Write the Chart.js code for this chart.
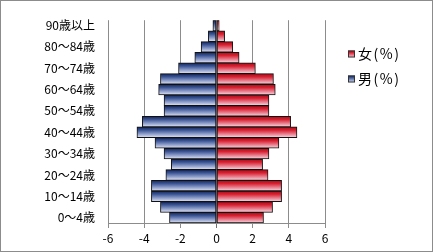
<!DOCTYPE html>
<html>
<head>
<meta charset="utf-8">
<script src="https://cdn.jsdelivr.net/npm/chart.js@4"></script>
<style>
  html, body { margin: 0; padding: 0; background: #fff; }
  #wrap { width: 433px; height: 252px; }
</style>
</head>
<body>
<div id="wrap"><canvas id="myChart" width="433" height="252"></canvas></div>
<script>
'use strict';

// age groups, bottom to top
const categories = [
  '0～4歳', '5～9歳', '10～14歳', '15～19歳', '20～24歳', '25～29歳',
  '30～34歳', '35～39歳', '40～44歳', '45～49歳', '50～54歳', '55～59歳',
  '60～64歳', '65～69歳', '70～74歳', '75～79歳', '80～84歳', '85～89歳',
  '90歳以上',
];

const male = [
  -2.6, -3.1, -3.6, -3.6, -2.8, -2.5, -2.9, -3.4, -4.4, -4.1,
  -2.9, -2.9, -3.2, -3.1, -2.1, -1.2, -0.85, -0.45, -0.2,
];
const female = [
  2.6, 3.1, 3.6, 3.6, 2.85, 2.55, 2.9, 3.45, 4.45, 4.1,
  2.9, 2.9, 3.25, 3.15, 2.15, 1.25, 0.9, 0.45, 0.15,
];

const xTicks = [-6, -4, -2, 0, 2, 4, 6];

const FONT = "'Noto Sans CJK JP', 'Noto Sans', sans-serif";

const stops = {
  male: ['#13255a', '#3a5494', '#98a6d0', '#e2e6f4'],
  female: ['#a80c1a', '#d8202f', '#ea8898', '#f7dbe0'],
};

const makeGradient = (ctx, top, bottom, colors) => {
  const g = ctx.createLinearGradient(0, top, 0, bottom);
  g.addColorStop(0, colors[0]);
  g.addColorStop(0.3, colors[1]);
  g.addColorStop(0.7, colors[2]);
  g.addColorStop(1, colors[3]);
  return g;
};

const barFill = (colors) => (c) => {
  const chart = c.chart;
  const y = chart.scales.y;
  if (!y || !chart.chartArea || c.dataIndex === undefined) return colors[1];
  const center = y.getPixelForValue(c.dataIndex);
  const h = chart.chartArea.height / categories.length;
  return makeGradient(chart.ctx, center - h / 2, center + h / 2, colors);
};

// white background + outer frame
const framePlugin = {
  id: 'frame',
  beforeDraw(chart) {
    const { ctx, width, height } = chart;
    ctx.save();
    ctx.fillStyle = '#fff';
    ctx.fillRect(0, 0, width, height);
    ctx.strokeStyle = '#8c8c8c';
    ctx.lineWidth = 1;
    ctx.strokeRect(0.5, 0.5, width - 1, height - 1);
    ctx.restore();
  },
};

// legend at the right, 女 first
const legendPlugin = {
  id: 'sideLegend',
  afterDraw(chart) {
    const { ctx } = chart;
    const items = [
      { text: chart.data.datasets[1].label, colors: stops.female, y: 54 },
      { text: chart.data.datasets[0].label, colors: stops.male, y: 79 },
    ];
    ctx.save();
    items.forEach((it) => {
      const top = it.y - 3.5;
      ctx.fillStyle = makeGradient(ctx, top, top + 7, it.colors);
      ctx.fillRect(348, top, 7, 7);
      ctx.strokeStyle = '#333';
      ctx.lineWidth = 1;
      ctx.strokeRect(348.5, top + 0.5, 6, 6);
      ctx.fillStyle = '#000';
      ctx.font = '14px ' + FONT;
      ctx.letterSpacing = '1.5px';
      ctx.textBaseline = 'middle';
      ctx.textAlign = 'left';
      ctx.fillText(it.text, 358, it.y);
    });
    ctx.restore();
  },
};

const ctx = document.getElementById('myChart');

new Chart(ctx, {
  type: 'bar',
  data: {
    labels: categories,
    datasets: [
      {
        label: '男(%)',
        data: male,
        backgroundColor: barFill(stops.male),
        borderColor: '#111',
        borderWidth: 1,
        borderSkipped: false,
        barPercentage: 1,
        categoryPercentage: 1,
      },
      {
        label: '女(%)',
        data: female,
        backgroundColor: barFill(stops.female),
        borderColor: '#111',
        borderWidth: 1,
        borderSkipped: false,
        barPercentage: 1,
        categoryPercentage: 1,
      },
    ],
  },
  options: {
    indexAxis: 'y',
    responsive: false,
    animation: false,
    layout: { padding: { left: 1, right: 108, top: 15, bottom: 1 } },
    plugins: {
      legend: { display: false },
      tooltip: { enabled: false },
    },
    scales: {
      x: {
        stacked: true,
        min: -6,
        max: 6,
        afterBuildTicks: (s) => {
          s.ticks = xTicks.map((v) => ({ value: v }));
        },
        afterFit: (s) => {
          s.height = 28;
        },
        grid: {
          color: (c) => (c.tick && c.tick.value === 0 ? '#6e6e6e' : '#8c8c8c'),
          tickLength: 5,
          drawTicks: true,
        },
        border: { display: true, color: '#8c8c8c' },
        ticks: {
          color: '#000',
          font: { family: FONT, size: 12 },
          padding: 3,
          maxRotation: 0,
        },
      },
      y: {
        stacked: true,
        reverse: true,
        afterFit: (s) => {
          s.width = 107;
        },
        grid: { display: false, drawTicks: false },
        border: { display: false },
        ticks: {
          autoSkip: false,
          color: '#000',
          font: { family: FONT, size: 12 },
          padding: 13,
          callback: (value) => (value % 2 === 0 ? categories[value] : ''),
        },
      },
    },
  },
  plugins: [framePlugin, legendPlugin],
});
</script>
</body>
</html>
